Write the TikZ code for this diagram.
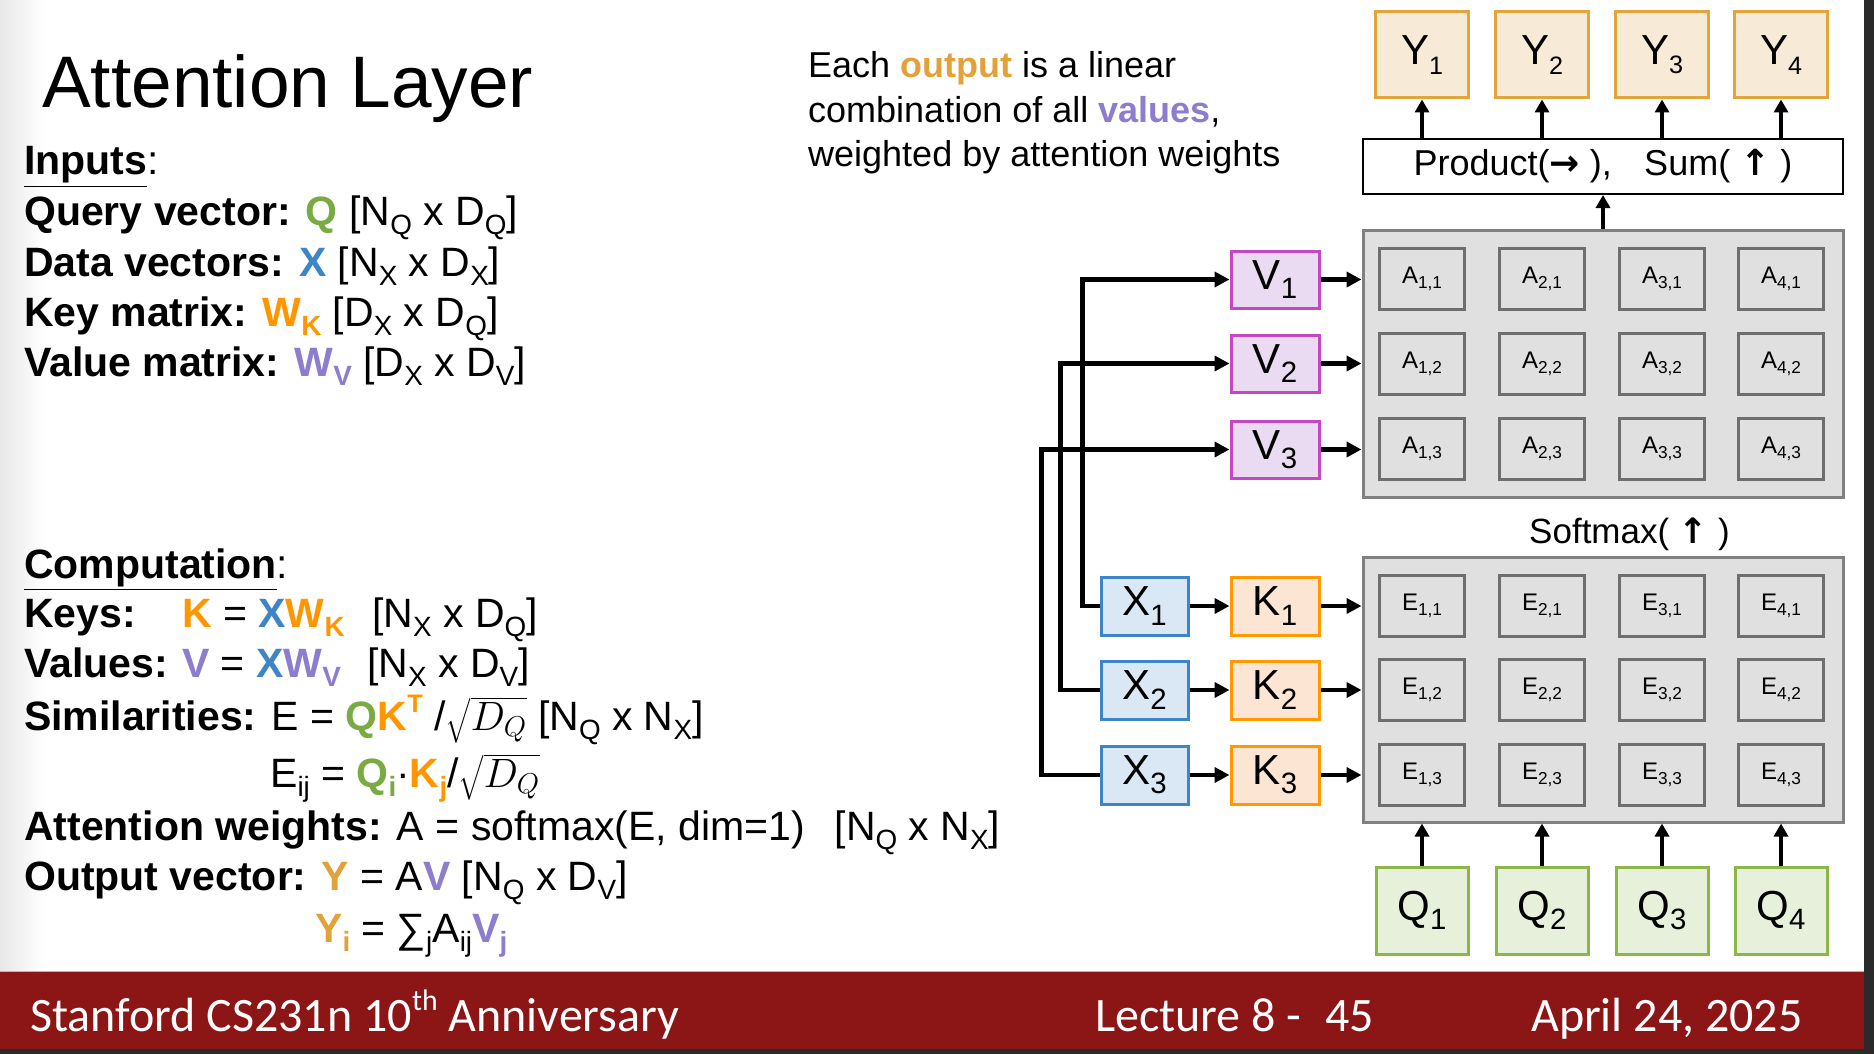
\RequirePackage{fix-cm}
\documentclass[tikz,border=0pt]{standalone}
\usepackage{fontspec}
\setmainfont{Liberation Sans}
\newfontfamily\footfont{Carlito}
\newfontfamily\djv{DejaVu Sans}
\usepackage{graphicx}
\usepackage{amsmath}
\usetikzlibrary{arrows.meta,calc}

\definecolor{qgreen}{RGB}{122,170,66}
\definecolor{xblue}{RGB}{61,133,198}
\definecolor{korange}{RGB}{255,150,0}
\definecolor{vpurple}{RGB}{142,124,205}
\definecolor{yorange}{RGB}{226,162,58}
\definecolor{yfill}{RGB}{247,235,216}
\definecolor{yborder}{RGB}{226,165,60}
\definecolor{vfill}{RGB}{234,218,242}
\definecolor{vborder}{RGB}{196,72,196}
\definecolor{kfill}{RGB}{252,229,210}
\definecolor{kborder}{RGB}{255,153,0}
\definecolor{xfill}{RGB}{218,232,245}
\definecolor{xborder}{RGB}{61,133,198}
\definecolor{qfill}{RGB}{231,240,218}
\definecolor{qborder}{RGB}{140,182,72}
\definecolor{cellfill}{RGB}{224,224,224}
\definecolor{cellborder}{RGB}{110,110,110}
\definecolor{outerborder}{RGB}{128,128,128}
\definecolor{cardinal}{RGB}{140,21,22}
\definecolor{darkstrip}{RGB}{42,42,42}

\newcommand{\dn}[2][0.68]{\raisebox{-0.22em}{\scalebox{#1}{#2}}}
\newcommand{\up}[1]{\raisebox{0.42em}{\scalebox{0.62}{#1}}}

\begin{document}
\begin{tikzpicture}[x=1pt,y=-1pt,
  lefttext/.style={anchor=base west, inner sep=0pt, font=\fontsize{41}{49}\selectfont},
  desc/.style={anchor=base west, inner sep=0pt, font=\fontsize{36}{44}\selectfont},
  foot/.style={anchor=base west, inner sep=0pt, text=white, font=\footfont\fontsize{48}{54}\selectfont},
  boxlab/.style={font=\fontsize{42}{44}\selectfont, inner sep=0pt, line width=3pt},
  ybox/.style={boxlab, fill=yfill, draw=yborder, minimum width=93pt, minimum height=86pt},
  vbox/.style={boxlab, fill=vfill, draw=vborder, minimum width=88pt, minimum height=57pt},
  kbox/.style={boxlab, fill=kfill, draw=kborder, minimum width=88pt, minimum height=58pt},
  xbox/.style={boxlab, fill=xfill, draw=xborder, minimum width=87pt, minimum height=58pt},
  qbox/.style={boxlab, fill=qfill, draw=qborder, minimum width=92pt, minimum height=87pt},
  outerbox/.style={fill=cellfill, draw=outerborder, line width=3pt, minimum width=480pt, inner sep=0pt},
  cell/.style={fill=cellfill, draw=cellborder, line width=2.5pt, minimum width=85pt, minimum height=61pt, inner sep=0pt, font=\fontsize{24}{26}\selectfont},
  arr/.style={line width=4.5pt, -{Triangle[length=15pt,width=15pt]}},
  arrs/.style={line width=4.5pt, -{Triangle[length=13pt,width=14pt]}}
]
\useasboundingbox (0,0) rectangle (1874,1054);
\fill[white] (0,0) rectangle (1874,1054);
\shade[left color=black!9, right color=white] (0,0) rectangle (45,971);

% ---------- title and left text ----------
\node[anchor=base west, inner sep=0pt, font=\fontsize{73}{80}\selectfont] (title) at (42,108) {Attention Layer};

\node[lefttext] (inputs) at (24,175) {\textbf{\underline{Inputs}}:};
\node[lefttext] (l1) at (24,225) {\textbf{Query vector:} {\bfseries\color{qgreen}Q} [N\dn{Q} x D\dn{Q}]};
\node[lefttext] (l2) at (24,276) {\textbf{Data vectors:} {\bfseries\color{xblue}X} [N\dn{X} x D\dn{X}]};
\node[lefttext] (l3) at (24,326) {\textbf{Key matrix:} {\bfseries\color{korange}W\dn{K}} [D\dn{X} x D\dn{Q}]};
\node[lefttext] (l4) at (24,376) {\textbf{Value matrix:} {\bfseries\color{vpurple}W\dn{V}} [D\dn{X} x D\dn{V}]};

\node[lefttext] (comp) at (24,578) {\textbf{\underline{Computation}}:};
\node[lefttext] (c1) at (24,627) {\makebox[158pt][l]{\textbf{Keys:}}\makebox[190pt][l]{{\bfseries\color{korange}K} = {\bfseries\color{xblue}X}{\bfseries\color{korange}W\dn{K}}}[N\dn{X} x D\dn{Q}]};
\node[lefttext] (c2) at (24,677) {\makebox[158pt][l]{\textbf{Values:}}\makebox[185pt][l]{{\bfseries\color{vpurple}V} = {\bfseries\color{xblue}X}{\bfseries\color{vpurple}W\dn{V}}}[N\dn{X} x D\dn{V}]};
\node[lefttext] (c3) at (24,730) {\textbf{Similarities:} E = {\bfseries\color{qgreen}Q}{\bfseries\color{korange}K\up{T}} /$\sqrt{D_Q}$ [N\dn{Q} x N\dn{X}]};
\node[lefttext] (c4) at (270,787) {E\dn{ij} = {\bfseries\color{qgreen}Q\dn{i}}·{\bfseries\color{korange}K\dn{j}}/$\sqrt{D_Q}$};
\node[lefttext] (c5) at (24,840) {\textbf{Attention weights:} A = softmax(E, dim=1)\hspace{0.45em} [N\dn{Q} x N\dn{X}]};
\node[lefttext] (c6) at (24,890) {\textbf{Output vector:} {\bfseries\color{yorange}Y} = A{\bfseries\color{vpurple}V} [N\dn{Q} x D\dn{V}]};
\node[lefttext] (c7) at (315,942) {{\bfseries\color{yorange}Y\dn{i}} = ∑\dn{j}A\dn{ij}{\bfseries\color{vpurple}V\dn{j}}};

% ---------- description ----------
\node[desc] (d1) at (808,78) {Each {\bfseries\color{yorange}output} is a linear};
\node[desc] (d2) at (808,123) {combination of all {\bfseries\color{vpurple}values},};
\node[desc] (d3) at (808,167) {weighted by attention weights};

% ---------- diagram ----------
\node[outerbox, minimum height=267pt] (Aout) at (1603,363.5) {};
\node[outerbox, minimum height=265pt] (Eout) at (1603,689.5) {};
\node[draw=black, fill=white, line width=2pt, minimum width=480pt, minimum height=55pt, inner sep=0pt,
      font=\fontsize{36}{40}\selectfont] (prod) at (1603,166.5)
      {Product({\djv\bfseries →} ),\hspace{0.9em}Sum( {\djv\bfseries ↑} )};
\node[anchor=base west, inner sep=0pt, font=\fontsize{35}{40}\selectfont] (smx) at (1529,543) {Softmax( {\djv\bfseries ↑} )};

\foreach \c/\x in {1/1422,2/1542,3/1662,4/1781}{
  \node[ybox] (Y\c) at (\x,55) {Y\dn[0.6]{\c}};
  \node[qbox] (Q\c) at (\x,910.5) {Q\dn[0.7]{\c}};
  \foreach \r/\ya/\ye in {1/279/606,2/364/690,3/449/775}{
    \node[cell] (A\c\r) at (\x,\ya) {A\dn[0.72]{\c,\r}};
    \node[cell] (E\c\r) at (\x,\ye) {E\dn[0.72]{\c,\r}};
  }
  \draw[arrs] (prod.north -| Y\c) -- (Y\c);
  \draw[arrs] (Q\c) -- (Q\c |- Eout.south);
}

\foreach \r/\ya/\ye in {1/279.5/606,2/363.5/690,3/449.5/775}{
  \node[vbox] (V\r) at (1275,\ya) {V\dn[0.7]{\r}};
  \node[xbox] (X\r) at (1144.5,\ye) {X\dn[0.7]{\r}};
  \node[kbox] (K\r) at (1275,\ye) {K\dn[0.7]{\r}};
  \draw[arr] (V\r) -- (V\r -| Aout.west);
  \draw[arr] (X\r) -- (K\r);
  \draw[arr] (K\r) -- (K\r -| Eout.west);
}
\draw[arr] (X1.west) -- ++(-17,0) |- (V1.west);
\draw[arr] (X2.west) -- ++(-39,0) |- (V2.west);
\draw[arr] (X3.west) -- ++(-58,0) |- (V3.west);
\draw[arrs] (Aout.north) -- (prod.south);

% ---------- footer ----------
\fill[cardinal] (0,971) rectangle (1864,1049);
\draw[color={rgb,255:red,215;green,170;blue,170}, line width=1.5pt] (0,971.5) -- (1864,971.5);
\fill[darkstrip] (1864,0) rectangle (1874,1054);
\fill[darkstrip] (0,1049) rectangle (1874,1054);
\node[foot] (f1) at (30,1031) {Stanford CS231n 10\up{th} Anniversary};
\node[foot] (f2) at (1095,1031) {Lecture 8 -\hspace{0.5em}45};
\node[foot] (f3) at (1531,1031) {April 24, 2025};
\end{tikzpicture}
\end{document}
